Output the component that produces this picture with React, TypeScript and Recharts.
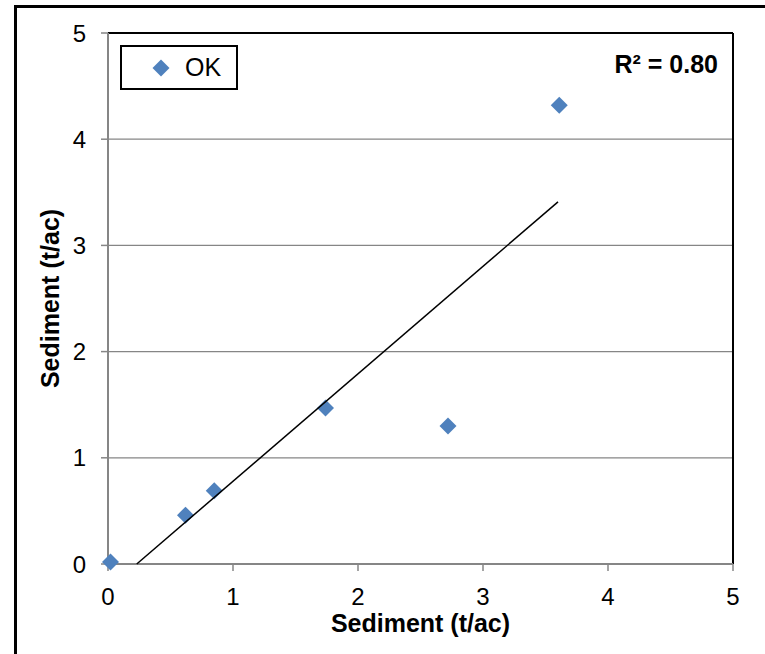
import { ScatterChart, Scatter, XAxis, YAxis, CartesianGrid, ReferenceLine, Legend } from 'recharts'

const okX = [0.02, 0.62, 0.85, 1.74, 2.72, 3.61]
const okY = [0.02, 0.46, 0.69, 1.47, 1.3, 4.32]
// trendline end points
const trendX = [0.23, 3.6]
const trendY = [0, 3.41]
const axisTicks = [0, 1, 2, 3, 4, 5]
const r2Text = 'R² = 0.80'

const okData = okX.map((x, i) => ({ x, y: okY[i] }))
const trendData = trendX.map((x, i) => ({ x, y: trendY[i] }))

const font = '"Liberation Sans", Arial, sans-serif'
const blue = '#4F81BD'
const gray = '#868686'

const Diamond = (props: any) => {
  const { cx, cy } = props
  const r = 8.5
  return <path d={`M${cx},${cy - r}L${cx + r},${cy}L${cx},${cy + r}L${cx - r},${cy}Z`} fill={blue} />
}

const LegendBox = () => (
  <div
    style={{
      width: 118,
      height: 45,
      boxSizing: 'border-box',
      border: '2px solid #000',
      background: '#fff',
      display: 'flex',
      alignItems: 'center',
      fontFamily: font,
      fontSize: 25,
      color: '#000',
    }}
  >
    <svg width={18} height={18} style={{ marginLeft: 30, marginRight: 15 }}>
      <path d="M9,0.5L17.5,9L9,17.5L0.5,9Z" fill={blue} />
    </svg>
    <span>OK</span>
  </div>
)

export default function App() {
  return (
    <div style={{ position: 'absolute', left: 0, top: 0, width: 765, height: 654, overflow: 'hidden', background: '#fff' }}>
      <div
        style={{
          position: 'absolute',
          left: 14,
          top: 5,
          width: 751,
          height: 649,
          boxSizing: 'border-box',
          borderTop: '3px solid #000',
          borderLeft: '3px solid #000',
        }}
      />
      <div style={{ position: 'absolute', left: 0, top: 0 }}>
        <ScatterChart width={765} height={654} margin={{ top: 33, right: 32, left: 48, bottom: 40 }} style={{ fontFamily: font }}>
          <CartesianGrid vertical={false} stroke={gray} strokeWidth={1.3} />
          <XAxis
            dataKey="x"
            type="number"
            domain={[0, 5]}
            ticks={axisTicks}
            height={50}
            axisLine={{ stroke: gray, strokeWidth: 2 }}
            tickLine={{ stroke: gray, strokeWidth: 1.5 }}
            tickSize={7}
            tickMargin={17}
            tick={{ fill: '#000', fontSize: 24, fontFamily: font }}
            label={{ value: 'Sediment (t/ac)', position: 'bottom', offset: 0, style: { fill: '#000', fontSize: 25, fontWeight: 'bold', fontFamily: font } }}
          />
          <YAxis
            dataKey="y"
            type="number"
            domain={[0, 5]}
            ticks={axisTicks}
            width={60}
            axisLine={{ stroke: gray, strokeWidth: 2 }}
            tickLine={{ stroke: gray, strokeWidth: 1.5 }}
            tickSize={7}
            tickMargin={15}
            tick={{ fill: '#000', fontSize: 24, fontFamily: font }}
            label={{ value: 'Sediment (t/ac)', angle: -90, position: 'insideLeft', offset: 2, style: { textAnchor: 'middle', fill: '#000', fontSize: 25, fontWeight: 'bold', fontFamily: font } }}
          />
          <ReferenceLine y={5} stroke="#000" strokeWidth={2} />
          <ReferenceLine x={5} stroke="#000" strokeWidth={2} />
          <Legend
            layout="vertical"
            align="center"
            verticalAlign="middle"
            wrapperStyle={{ left: 120, top: 45, width: 118, height: 45 }}
            content={() => <LegendBox />}
          />
          <Scatter name="OK" data={okData} fill={blue} shape={Diamond} isAnimationActive={false} />
          <Scatter
            name="trend"
            data={trendData}
            legendType="none"
            line={{ stroke: '#000', strokeWidth: 1.5 }}
            shape={() => <g />}
            isAnimationActive={false}
          />
        </ScatterChart>
      </div>
      <div
        style={{
          position: 'absolute',
          right: 47,
          top: 52,
          fontFamily: font,
          fontSize: 25,
          lineHeight: '25px',
          fontWeight: 'bold',
          color: '#000',
          whiteSpace: 'nowrap',
        }}
      >
        {r2Text}
      </div>
    </div>
  )
}
